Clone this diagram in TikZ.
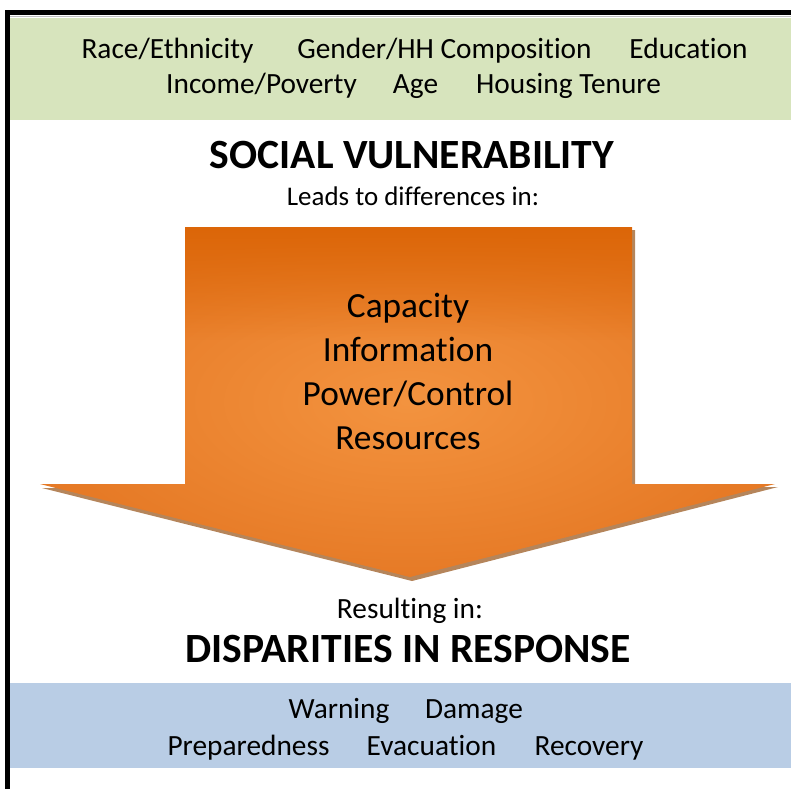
\documentclass[tikz,border=0pt]{standalone}
\usepackage{fontspec}
\setmainfont{Carlito}[Ligatures=NoCommon]
\usetikzlibrary{fadings}
\definecolor{bandgreen}{HTML}{D7E4BD}
\definecolor{bandblue}{HTML}{B9CDE5}
\definecolor{arrowdark}{HTML}{DC6608}
\definecolor{arrowedge}{HTML}{E67A26}
\definecolor{arrowlight}{HTML}{F3933F}
\definecolor{arrowshadow}{HTML}{A8703E}

\begin{document}
\begin{tikzpicture}[x=0.75pt,y=-0.75pt,
    word/.style={anchor=base,inner sep=0pt,font=\fontsize{22}{26}\selectfont},
    lead/.style={anchor=base,inner sep=0pt,font=\fontsize{20.2}{24}\selectfont},
    heading/.style={anchor=base,inner sep=0pt,font=\fontsize{31.2}{36}\selectfont\bfseries},
    inarrow/.style={anchor=base,inner sep=0pt,font=\fontsize{26.5}{31}\selectfont}]
\useasboundingbox (0,0) rectangle (791,789);

% Frame (left and top edge of the screenshot)
\fill[black] (5,10) rectangle (10,789);
\fill[black] (5,10) rectangle (791,15);
\draw[gray!50,line width=0.8pt] (10,16.5) -- (791,16.5);

% Coloured bands
\fill[bandgreen] (10,18) rectangle (791,120);
\fill[bandblue] (10,683) rectangle (791,768);

% Factors of social vulnerability
\node[word] (race)   at (167.5,58) {Race/Ethnicity};
\node[word] (gender) at (444.5,58) {Gender/HH Composition};
\node[word] (educ)   at (688.5,58) {Education};
\node[word] (income) at (261.5,93) {Income/Poverty};
\node[word] (age)    at (415.5,93) {Age};
\node[word] (tenure) at (568.5,93) {Housing Tenure};

\node[heading] (socvul) at (412,168) {SOCIAL VULNERABILITY};
\node[lead] (leads) at (413,205) {Leads to differences in:};

% Big block arrow with shadow
\fill[arrowshadow,opacity=0.85] (187,230) -- (635,230) -- (635,487) -- (778,487)
    -- (412,581) -- (42,488) -- (187,488) -- cycle;
\shade[inner color=arrowlight,outer color=arrowedge] (185,227) -- (632,227)
    -- (632,484) -- (775,484) -- (410,577) -- (40,484) -- (185,484) -- cycle;
\fill[arrowdark,path fading=south] (185,227) rectangle (632,340);

\foreach \txt/\yy/\nm in {Capacity/317/cap,Information/361/info,
    {Power/Control}/405/power,Resources/449/res} {
    \node[inarrow] (\nm) at (408,\yy) {\txt};
}

% Outcomes
\node[word] (result) at (410,618) {Resulting in:};
\node[heading] (disp) at (408,662) {DISPARITIES IN RESPONSE};

\node[word] (warn)   at (339,718) {Warning};
\node[word] (damage) at (474,718) {Damage};
\node[word] (prep)   at (248.5,755) {Preparedness};
\node[word] (evac)   at (431.5,755) {Evacuation};
\node[word] (recov)  at (589,755) {Recovery};
\end{tikzpicture}
\end{document}
